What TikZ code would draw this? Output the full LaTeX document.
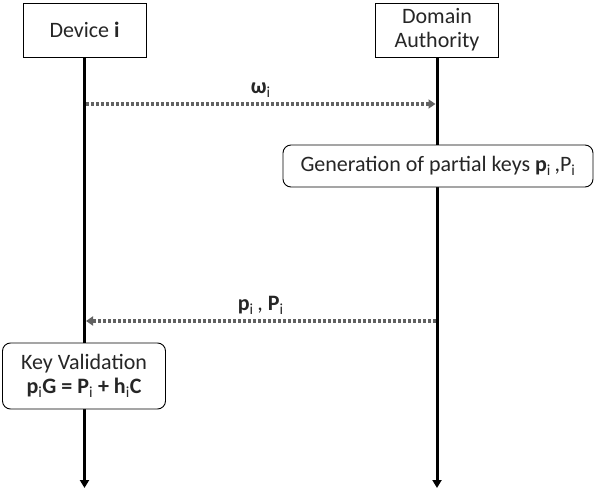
\documentclass[tikz,border=0pt]{standalone}
\usepackage{fontspec}
\setmainfont{Carlito}
\usetikzlibrary{arrows.meta,positioning}
\begin{document}
\begin{tikzpicture}[x=1pt, y=-1pt,
  every node/.style={font=\fontsize{22}{24}\selectfont, text=black!85},
  actor/.style={draw, line width=0.9pt, fill=white, minimum width=123pt, minimum height=54pt, align=center, inner sep=2pt},
  event/.style={draw, line width=0.9pt, fill=white, rounded corners=8pt, minimum height=42pt, align=center, inner sep=3pt},
  lifeline/.style={line width=3pt, -{Triangle[width=9pt,length=8pt]}},
  msg/.style={draw=black!62, line width=3.2pt, dash pattern=on 3pt off 2pt, -{Triangle[width=9pt,length=7pt]}},
  msglabel/.style={inner sep=1pt, above=4pt}]
  \useasboundingbox (0,0) rectangle (595,490);

  % Teilnehmer
  \node[actor] (device) at (84.5,30) {Device \textbf{i}};
  \node[actor] (authority) at (437,30) {Domain\\Authority};

  % Lebenslinien
  \coordinate (devend) at (84.5,488);
  \coordinate (authend) at (437,488);
  \draw[lifeline] (device.south) -- (devend);
  \draw[lifeline] (authority.south) -- (authend);

  % Aktionen
  \node[event, minimum width=310pt] (gen) at (438,166)
    {Generation of partial keys \textbf{p}\textsubscript{i}\,,P\textsubscript{i}};
  \node[event, minimum width=163pt, minimum height=66pt] (keyval) at (84,376)
    {Key Validation\\\textbf{p}\textsubscript{i}\textbf{G = P}\textsubscript{i}\textbf{ + h}\textsubscript{i}\textbf{C}};

  % Nachrichten
  \coordinate (omegafrom) at (86,104);
  \coordinate (omegato) at (435.5,104);
  \draw[msg] (omegafrom) -- node[msglabel] (omega) {\textbf{ω}\textsubscript{i}} (omegato);

  \coordinate (keysfrom) at (435.5,321);
  \coordinate (keysto) at (86,321);
  \draw[msg] (keysfrom) -- node[msglabel] (keys) {\textbf{p}\textsubscript{i}\,, \textbf{P}\textsubscript{i}} (keysto);
\end{tikzpicture}
\end{document}
